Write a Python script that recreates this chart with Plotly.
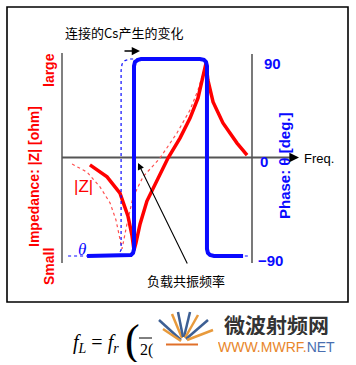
import plotly.graph_objects as go

W, H = 356, 365

# ---- data (frequency in arbitrary units, impedance 0..100 relative, phase in degrees)
phase_f = [1.32, 3.42, 3.63, 3.74, 3.79, 3.79, 3.84, 4.00, 4.16, 7.26, 7.47, 7.58, 7.63, 7.63, 7.68, 7.79, 8.00, 9.53]
phase_deg = [-90, -90, -89.1, -87.3, -83.6, 83.6, 87.3, 89.3, 90, 90, 89.3, 87.3, 83.6, -83.6, -87.3, -89.1, -90, -90]

phase_cs_f = [0.32, 2.84, 2.95, 3.11, 3.11, 3.16, 3.32, 3.58, 4.16, 7.26, 7.47, 7.58, 7.63, 7.63, 7.68, 7.79, 8.00, 9.79]
phase_cs_deg = [-90, -90, -89.1, -84.5, 79.5, 85.4, 88.6, 90, 90, 90, 89.3, 87.3, 83.6, -83.6, -87.3, -89.1, -90, -90]

z_f = [1.47, 2.37, 3.05, 3.47, 3.68, 3.79, 3.89, 4.11, 4.47, 5.00, 5.58, 6.21, 6.74, 7.16, 7.42, 7.58,
       7.68, 7.95, 8.47, 9.21, 9.74]
z_val = [46.7, 41.0, 33.3, 22.4, 13.3, 6.2, 9.5, 18.6, 29.5, 39.5, 50.0, 59.5, 69.0, 78.6, 88.1, 95.2,
         87.1, 76.7, 66.7, 57.1, 51.4]

z_cs_f = [0.53, 1.32, 2.00, 2.53, 2.84, 3.05, 3.16, 3.42, 3.74, 4.26, 5.16, 6.05, 6.74, 7.16, 7.42, 7.58]
z_cs_val = [47.1, 43.3, 36.2, 28.6, 20.5, 12.4, 6.7, 18.6, 31.4, 41.0, 50.0, 61.9, 72.9, 82.4, 91.0, 95.2]

phase_ticks = [90, 0, -90]
phase_tick_text = ["90", "0", "\u221290"]

BLUE = "#0a0aff"
RED = "#ff0000"

# axis scale (62 px -> f=0, 19 px per unit; Z: 0@263px, 100@53px; phase: 0@157.5, 1.0944 px/deg)
X_RANGE = [-62 / 19, (W - 62) / 19]
Y_RANGE = [(263 - H) / 2.1, 263 / 2.1]
Y2_RANGE = [(157.5 - H) / 1.0944, 157.5 / 1.0944]


def px(x):
    return x / W


def py(y):
    return 1 - y / H


fig = go.Figure()

fig.add_trace(go.Scatter(x=phase_cs_f, y=phase_cs_deg, yaxis="y2", mode="lines",
                         line=dict(color=BLUE, width=1.2, dash="dot"), hoverinfo="skip"))
fig.add_trace(go.Scatter(x=z_cs_f, y=z_cs_val, mode="lines",
                         line=dict(color="#ff5050", width=1.2, dash="dot"), hoverinfo="skip"))
fig.add_trace(go.Scatter(x=z_f, y=z_val, mode="lines",
                         line=dict(color=RED, width=3.5), hoverinfo="skip"))
fig.add_trace(go.Scatter(x=phase_f, y=phase_deg, yaxis="y2", mode="lines",
                         line=dict(color=BLUE, width=4), hoverinfo="skip"))

shapes = [
    # outer frame
    dict(type="rect", xref="paper", yref="paper", x0=px(7), x1=px(348), y0=py(302), y1=py(7),
         line=dict(color="black", width=1.6), layer="below"),
    # left axis (impedance)
    dict(type="line", xref="x", yref="y", x0=0, x1=0, y0=0, y1=100,
         line=dict(color="#808080", width=2), layer="below"),
    # right axis (phase)
    dict(type="line", xref="x", yref="y", x0=10, x1=10, y0=0, y1=99.5,
         line=dict(color="#202020", width=1.2), layer="below"),
    # frequency axis
    dict(type="line", xref="x", yref="y2", x0=0, x1=(292 - 62) / 19, y0=0, y1=0,
         line=dict(color="#555555", width=2), layer="below"),
    # fraction bar in formula
    dict(type="line", xref="paper", yref="paper", x0=px(139), x1=px(152), y0=py(338), y1=py(338),
         line=dict(color="black", width=1)),
    # logo base
    dict(type="line", xref="paper", yref="paper", x0=px(166), x1=px(198), y0=py(344.5), y1=py(344.5),
         line=dict(color="#e0702a", width=2)),
]

# logo rays (tapered strokes approximated by lines)
rays = [
    ((181, 340), (159, 320), "#3d5f94", 2.5),
    ((181, 341), (163, 329), "#e89a3c", 2.5),
    ((182, 338), (172, 314), "#e89a3c", 2.5),
    ((183, 337), (178, 312), "#3d5f94", 2.5),
    ((184, 337), (190, 312), "#3d5f94", 2.5),
    ((185, 338), (198, 315), "#e89a3c", 2.5),
    ((186, 339), (208, 320), "#3d5f94", 2.5),
    ((187, 340), (213, 330), "#e89a3c", 2.5),
]
for (x0, y0), (x1, y1), c, w in rays:
    shapes.append(dict(type="line", xref="paper", yref="paper", x0=px(x0), y0=py(y0), x1=px(x1), y1=py(y1),
                       line=dict(color=c, width=w)))

ann = []


def text(x, y, s, size, color="black", bold=False, angle=0, family="Arial, Liberation Sans, sans-serif",
         xanchor="center", height=None):
    if bold:
        s = "<b>" + s + "</b>"
    a = dict(xref="paper", yref="paper", x=px(x), y=py(y), text=s, showarrow=False,
             font=dict(size=size, color=color, family=family), textangle=angle,
             xanchor=xanchor, yanchor="middle")
    if height:
        a["height"] = height
    ann.append(a)


CJK = "Noto Sans CJK SC, sans-serif"
text(124, 33, "连接的Cs产生的变化", 13, family=CJK)
text(186, 280, "负载共振频率", 13, family=CJK)
text(302, 158, "Freq.", 13, xanchor="left")

# phase tick labels
tick_px = [272, 264, 270]
for v, t, xp in zip(phase_ticks, phase_tick_text, tick_px):
    ann.append(dict(xref="paper", yref="y2", x=px(xp), y=v - 4, text="<b>" + t + "</b>",
                    showarrow=False, font=dict(size=15, color=BLUE, family="Arial, Liberation Sans, sans-serif"),
                    xanchor="center", yanchor="middle"))

text(284, 166, "Phase: \u03b8 [deg.]", 15, color=BLUE, bold=True, angle=-90)
text(34, 177, "Impedance: |Z| [ohm]", 14, color=RED, bold=True, angle=-90)
text(49, 70, "large", 14, color=RED, bold=True, angle=-90)
text(49, 267, "Small", 14, color=RED, bold=True, angle=-90)
text(83, 186, "|Z|", 17, color=RED)
text(82, 249, "<i>\u03b8</i>", 17, color=BLUE, family="Liberation Serif, serif")

# formula and logo text
text(71, 343, "<i>f</i><sub><i>L</i></sub> = <i>f</i><sub><i>r</i></sub>", 20,
     family="Liberation Serif, serif", xanchor="left")
text(132, 340, "(", 44, family="Liberation Serif, serif", height=44)
text(146, 350, "2(", 16, family="Liberation Serif, serif")
text(276, 324, "<b>微波射频网</b>", 21, color="#333333", family=CJK, height=22)
text(276, 346, "<span style='color:#e8862a'>WWW.MWRF.</span><span style='color:#4a6fb0'>NET</span>", 14,
     height=15)

# arrows
ann.append(dict(xref="paper", yref="paper", x=px(140), y=py(51), ax=-17, ay=0, axref="pixel", ayref="pixel",
                text="", showarrow=True, arrowhead=2, arrowsize=1.1, arrowwidth=1.5, arrowcolor="black"))
ann.append(dict(xref="paper", yref="paper", x=px(138), y=py(163), ax=50, ay=102, text="",
                showarrow=True, arrowhead=2, arrowsize=1.2, arrowwidth=1.1, arrowcolor="black"))
ann.append(dict(xref="paper", yref="paper", x=px(299), y=py(157.5), ax=-10, ay=0, text="",
                showarrow=True, arrowhead=2, arrowsize=1.2, arrowwidth=1.6, arrowcolor="black"))

fig.update_layout(
    width=W, height=H, margin=dict(l=0, r=0, t=0, b=0),
    paper_bgcolor="white", plot_bgcolor="white", showlegend=False,
    xaxis=dict(range=X_RANGE, visible=False, fixedrange=True),
    yaxis=dict(range=Y_RANGE, visible=False, fixedrange=True),
    yaxis2=dict(range=Y2_RANGE, visible=False, overlaying="y", side="right", fixedrange=True),
    shapes=shapes, annotations=ann,
)

fig.write_html("out.html", config={"displayModeBar": False},
               post_script="document.body.style.margin='0';document.body.style.overflow='hidden';")
